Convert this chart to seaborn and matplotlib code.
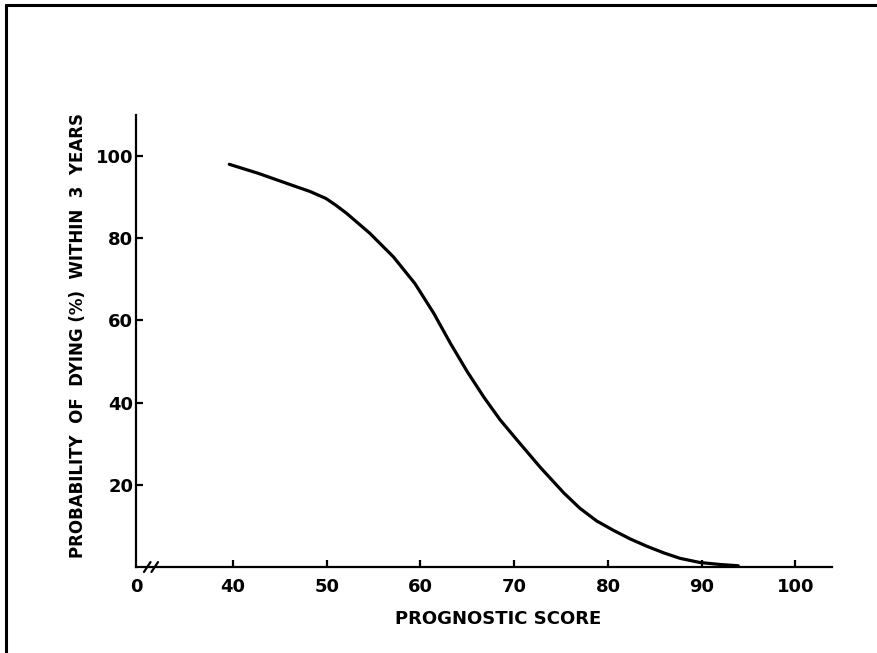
import matplotlib
matplotlib.use("Agg")
import matplotlib.pyplot as plt
import matplotlib.lines as mlines
import pandas as pd
import seaborn as sns

# curve
score = [39.6, 42.7, 46.3, 48.2, 49.9, 51.0, 52.1, 54.6, 57.1, 59.4, 61.4, 63.2,
         65.0, 66.8, 68.5, 70.3, 72.8, 75.3, 77.0, 78.8, 80.6, 82.4, 84.2, 86.0,
         87.7, 89.8, 92.0, 93.9]
prob_dying = [98.0, 95.8, 92.9, 91.4, 89.7, 88.0, 86.1, 81.2, 75.5, 69.0, 61.8, 54.4,
              47.5, 41.2, 35.8, 30.9, 24.2, 18.0, 14.3, 11.2, 8.9, 6.8, 5.0, 3.4,
              2.1, 1.1, 0.6, 0.3]

x_ticks = [40, 50, 60, 70, 80, 90, 100]
y_ticks = [20, 40, 60, 80, 100]
x_zero = 29.65  # where "0" sits on the broken axis

df = pd.DataFrame({"score": score, "prob": prob_dying})

sns.set_style("ticks")
plt.rcParams["font.family"] = ["DejaVu Sans"]
plt.rcParams["text.color"] = "black"
plt.rcParams["axes.labelcolor"] = "black"
plt.rcParams["xtick.color"] = "black"
plt.rcParams["ytick.color"] = "black"
plt.rcParams["axes.edgecolor"] = "black"

fig = plt.figure(figsize=(8.78, 6.53), dpi=100)
ax = fig.add_axes([0.1549, 0.1317, 0.7927, 0.6922])

sns.lineplot(data=df, x="score", y="prob", color="black", linewidth=2.3, ax=ax)
ax.lines[0].set_solid_joinstyle("round")
ax.lines[0].set_solid_capstyle("round")

ax.set_xlim(x_zero, 103.9)
ax.set_ylim(0, 110)
sns.despine(ax=ax)
for s in ["left", "bottom"]:
    ax.spines[s].set_linewidth(1.6)

ax.set_xticks([x_zero] + x_ticks)
ax.set_xticklabels(["0"] + [str(t) for t in x_ticks])
ax.set_yticks(y_ticks)
ax.set_yticklabels([str(t) for t in y_ticks])
ax.tick_params(axis="both", direction="in", length=5, width=1.6,
               labelsize=13)
ax.tick_params(axis="x", pad=8)
ax.tick_params(axis="y", pad=2)
ax.xaxis.get_major_ticks()[0].tick1line.set_visible(False)
for lab in ax.get_xticklabels() + ax.get_yticklabels():
    lab.set_fontweight("bold")

ax.set_xlabel("PROGNOSTIC SCORE", fontsize=13, fontweight="bold")
ax.set_ylabel("PROBABILITY  OF  DYING (%)  WITHIN  3  YEARS", fontsize=12,
              fontweight="bold")
ax.xaxis.set_label_coords(0.52, -0.095)
ax.yaxis.set_label_coords(-0.07, 0.513)

# axis break marks
for dx in [1.2, 2.0]:
    ax.plot([x_zero + dx - 0.35, x_zero + dx + 0.35], [-1.2, 1.2],
            color="black", linewidth=1.6, clip_on=False)

# scan border on top and left
fig.add_artist(mlines.Line2D([0.007, 0.007], [0, 0.992], color="black", linewidth=2.2))
fig.add_artist(mlines.Line2D([0.007, 1], [0.992, 0.992], color="black", linewidth=2.2))

fig.savefig("out.png", dpi=100, facecolor="white")
